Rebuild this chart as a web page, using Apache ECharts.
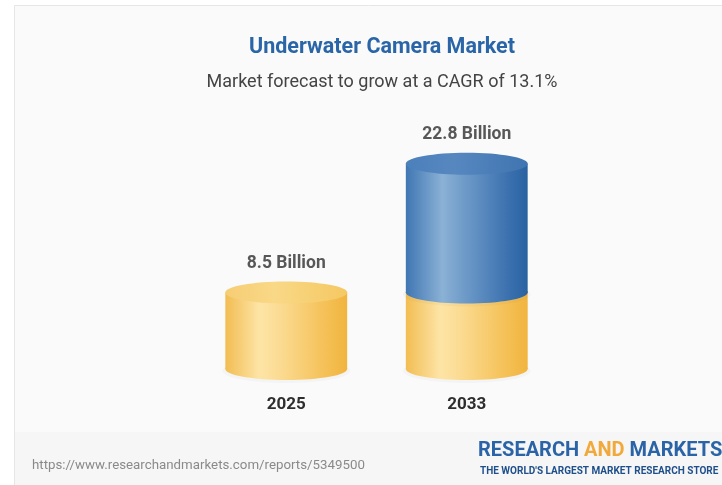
<!DOCTYPE html>
<html>
<head>
<meta charset="utf-8">
<script src="https://cdn.jsdelivr.net/npm/echarts@6/dist/echarts.min.js"></script>
<style>html,body{margin:0;padding:0;background:#fff}#c{width:722px;height:485px}</style>
</head>
<body>
<div id="c"></div>
<script>
const years = ['2025', '2033'];
const baseValues = [8.5, 8.5];
const growthValues = [0, 14.3];
const totals = [8.5, 22.8];
const labelTexts = ['8.5 Billion', '22.8 Billion'];

const chart = echarts.init(document.getElementById('c'));

const yellowBody = new echarts.graphic.LinearGradient(0, 0, 1, 0, [
  {offset: 0, color: '#f2bd52'}, {offset: 0.28, color: '#fde4a6'},
  {offset: 0.45, color: '#fbdb92'}, {offset: 0.8, color: '#f5c25a'}, {offset: 1, color: '#f1b43e'}]);
const yellowTop = new echarts.graphic.LinearGradient(0, 0, 1, 0, [
  {offset: 0, color: '#f6cd74'}, {offset: 0.4, color: '#f9d887'}, {offset: 1, color: '#f5c862'}]);
const blueBody = new echarts.graphic.LinearGradient(0, 0, 1, 0, [
  {offset: 0, color: '#3f76b3'}, {offset: 0.3, color: '#8bb1d5'},
  {offset: 0.5, color: '#6b98c7'}, {offset: 0.85, color: '#3a70ae'}, {offset: 1, color: '#2a62a1'}]);
const blueTop = new echarts.graphic.LinearGradient(0, 0, 1, 0, [
  {offset: 0, color: '#4b80bb'}, {offset: 0.4, color: '#5787bf'}, {offset: 1, color: '#3f75b1'}]);

function makeRender(bodyFill, topFill) {
  return function (params, api) {
    const x = api.value(0), s = api.value(1), e = api.value(2);
    if (e - s <= 0) return null;
    const p0 = api.coord([x, s]);
    const p1 = api.coord([x, e]);
    const w = api.size([1, 0])[0] * 0.675;
    const rx = w / 2, ry = 11;
    const cx = p0[0];
    return {
      type: 'group',
      children: [
        {type: 'ellipse', shape: {cx: cx, cy: p0[1] + 2, rx: rx + 3, ry: ry + 1}, style: {fill: 'rgba(0,0,0,0.025)'}},
        {type: 'rect', shape: {x: cx - rx, y: p1[1], width: w, height: p0[1] - p1[1]}, style: {fill: bodyFill}},
        {type: 'ellipse', shape: {cx: cx, cy: p0[1], rx: rx, ry: ry}, style: {fill: bodyFill}},
        {type: 'ellipse', shape: {cx: cx, cy: p1[1], rx: rx, ry: ry}, style: {fill: topFill}}
      ]
    };
  };
}

const yellowData = years.map((y, i) => [i, 0, baseValues[i]]);
const blueData = years.map((y, i) => [i, baseValues[i], baseValues[i] + growthValues[i]]);

chart.setOption({
  backgroundColor: '#ffffff',
  animation: false,
  graphic: [
    {type: 'rect', left: 14, top: 5, shape: {width: 708, height: 480}, style: {fill: '#fafafa', stroke: '#e6e6e6', lineWidth: 1}, z: -10},
    {type: 'rect', left: 15, top: 432, shape: {width: 707, height: 53}, style: {fill: '#f6f6f6'}, z: -9},
    {type: 'text', left: 32, top: 459, style: {text: 'https://www.researchandmarkets.com/reports/5349500', fill: '#8a8a8a', font: '13.3px Roboto'}},
    {type: 'text', left: 478, top: 441, style: {
      text: '{a|RESEARCH }{b|AND}{a| MARKETS}',
      rich: {
        a: {fill: '#2a64a6', font: 'bold 20px Roboto'},
        b: {fill: '#f2a93b', font: 'bold 20px Roboto'}
      }}},
    {type: 'text', left: 480, top: 466, style: {text: "THE WORLD'S LARGEST MARKET RESEARCH STORE", fill: '#1f4f8a', font: 'bold 10px Roboto'}}
  ],
  title: [
    {text: 'Underwater Camera Market', left: 377, top: 32, textAlign: 'center',
      textStyle: {color: '#2a65a8', fontSize: 21.5, fontWeight: 'bold', fontFamily: 'Roboto'}},
    {text: 'Market forecast to grow at a CAGR of 13.1%', left: 377, top: 68, textAlign: 'center',
      textStyle: {color: '#444444', fontSize: 18, fontWeight: 'normal', fontFamily: 'Roboto'}}
  ],
  grid: {left: 196, right: 165, top: 144, bottom: 116},
  xAxis: {
    type: 'category', data: years,
    axisLine: {show: false}, axisTick: {show: false},
    axisLabel: {color: '#2e2e2e', fontSize: 17, fontWeight: 'bold', fontFamily: 'Roboto', margin: 27}
  },
  yAxis: {type: 'value', min: 0, max: 25, show: false},
  series: [
    {type: 'custom', renderItem: makeRender(yellowBody, yellowTop), data: yellowData, z: 2},
    {type: 'custom', renderItem: makeRender(blueBody, blueTop), data: blueData, z: 3},
    {type: 'scatter', symbolSize: 0, data: years.map((y, i) => [i, totals[i]]), z: 4,
      label: {show: true, position: 'top', distance: 20, color: '#2e2e2e', fontSize: 17.5, fontWeight: 'bold', fontFamily: 'Roboto',
        formatter: p => labelTexts[p.dataIndex]}}
  ]
});
</script>
</body>
</html>
